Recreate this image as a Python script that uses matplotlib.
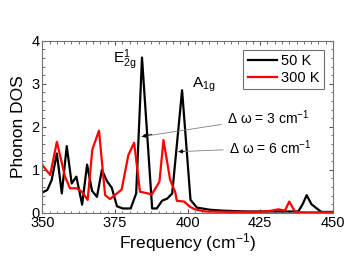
import matplotlib

matplotlib.use("Agg")
import matplotlib.pyplot as plt  # noqa: E402
from matplotlib.ticker import MultipleLocator  # noqa: E402

plt.rcParams["font.family"] = ["Liberation Sans", "DejaVu Sans"]
plt.rcParams["mathtext.fontset"] = "custom"
plt.rcParams["mathtext.rm"] = "Liberation Sans"
plt.rcParams["mathtext.it"] = "Liberation Sans"

# phonon DOS (frequency in cm^-1)
freq_50k = [350, 351.7, 353.2, 355, 356.7, 358.4, 360.1, 361.7, 363.7, 365.4,
            367.1, 368.8, 370.5, 372.2, 373.9, 375.7, 377.7, 380.4, 382.3, 384.3,
            387.8, 389.4, 391.2, 393.0, 394.7, 398.1, 401.0, 403.2, 407.7, 412,
            420, 428, 434, 438.1, 439.6, 441, 442.6, 446, 450]
dos_50k = [0.47, 0.53, 0.76, 1.38, 0.45, 1.55, 0.68, 0.84, 0.19, 1.12,
           0.51, 0.37, 1.0, 0.74, 0.58, 0.15, 0.1, 0.1, 0.45, 3.61,
           0.1, 0.1, 0.28, 0.33, 0.45, 2.85, 0.3, 0.12, 0.07, 0.05,
           0.03, 0.03, 0.03, 0.03, 0.2, 0.41, 0.2, 0.02, 0.02]

freq_300k = [350, 352.7, 355, 357.8, 359.5, 361.8, 363.6, 365.6, 367.2, 369.5,
             371.6, 373.3, 377.3, 379.6, 381.6, 383.6, 387.7, 390.3, 391.7, 394.0,
             395.7, 396.3, 398.8, 400.8, 402.5, 406, 415, 425, 429, 431.2,
             433.5, 435.0, 437, 440, 450]
dos_300k = [1.11, 0.88, 1.65, 0.84, 0.57, 0.57, 0.49, 0.3, 1.47, 1.91,
            0.41, 0.32, 0.54, 1.34, 1.63, 0.49, 0.43, 0.72, 1.69, 0.76,
            0.49, 0.28, 0.26, 0.14, 0.08, 0.03, 0.02, 0.02, 0.05, 0.08,
            0.05, 0.26, 0.02, 0.01, 0.01]

# (label, arrow target, text position)
shifts = [
    (r"$\Delta\ \omega$ = 3 cm$^{-1}$", (384.2, 1.77), (413.5, 2.22)),
    (r"$\Delta\ \omega$ = 6 cm$^{-1}$", (396.8, 1.42), (414.2, 1.51)),
]

fig = plt.figure(figsize=(3.5, 2.63), dpi=100)
ax = fig.add_axes([0.121, 0.191, 0.830, 0.654])

ax.plot(freq_50k, dos_50k, color="black", lw=1.6, label="50 K")
ax.plot(freq_300k, dos_300k, color="#ff0000", lw=1.6, label="300 K")

ax.set_xlim(350, 450)
ax.set_ylim(0, 4)
ax.xaxis.set_major_locator(MultipleLocator(25))
ax.xaxis.set_minor_locator(MultipleLocator(2.5))
ax.yaxis.set_major_locator(MultipleLocator(1))
ax.yaxis.set_minor_locator(MultipleLocator(0.2))
ax.tick_params(which="both", direction="in", top=True, right=True,
               color="0.35", labelsize=10.5, pad=2)
ax.tick_params(which="major", length=3)
ax.tick_params(which="minor", length=1.8)
for sp in ax.spines.values():
    sp.set_color("0.45")
    sp.set_linewidth(0.8)

ax.set_xlabel("Frequency (cm$^{-1}$)", fontsize=12.5, labelpad=1)
ax.set_ylabel("Phonon DOS", fontsize=12.5, labelpad=4)

ax.text(374.3, 3.55, r"E$^{1}_{2g}$", fontsize=11, va="center", ha="left")
ax.text(401.5, 2.98, r"A$_{1g}$", fontsize=11, va="center", ha="left")

for label, tip, pos in shifts:
    # grey leader line from the text, small black head at the peak
    ax.annotate(label, xy=tip, xytext=pos, fontsize=10, va="center", ha="left",
                arrowprops=dict(arrowstyle="-", color="0.5", lw=0.6,
                                shrinkA=2, shrinkB=0))
    mid = (tip[0] + 0.12 * (pos[0] - tip[0]), tip[1] + 0.12 * (pos[1] - tip[1]))
    ax.annotate("", xy=tip, xytext=mid,
                arrowprops=dict(arrowstyle="-|>", color="black", lw=0.6,
                                mutation_scale=6, shrinkA=0, shrinkB=0))

leg = ax.legend(loc="upper right", fontsize=10.5, frameon=True, fancybox=False,
                handlelength=2.0, handletextpad=0.3, borderpad=0.3,
                labelspacing=0.2, borderaxespad=0.6)
leg.get_frame().set_edgecolor("0.3")
leg.get_frame().set_linewidth(0.8)

fig.savefig("out.png", dpi=100)
